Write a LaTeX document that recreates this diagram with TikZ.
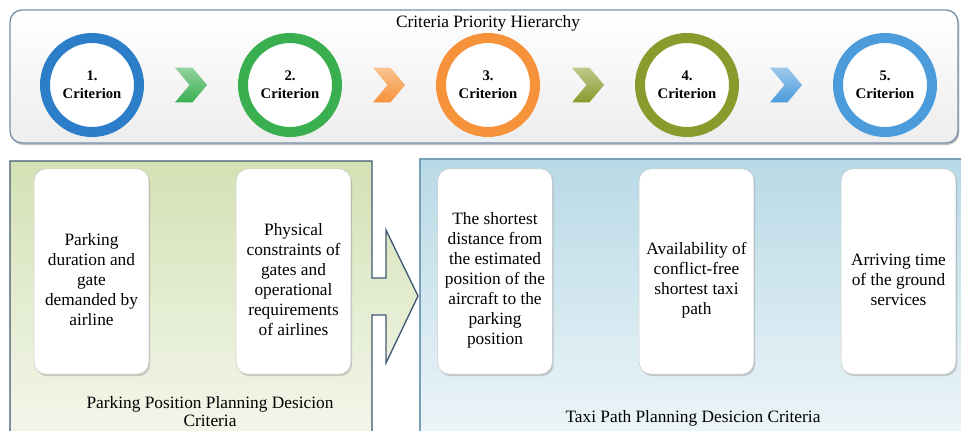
\documentclass[tikz,border=0pt]{standalone}
\usepackage{fontspec}
\setmainfont{Liberation Serif}
\usetikzlibrary{shapes.symbols,shadows}

\definecolor{bleu1}{RGB}{45,126,200}
\definecolor{vert}{RGB}{58,175,80}
\definecolor{orange}{RGB}{246,146,58}
\definecolor{olive}{RGB}{139,154,44}
\definecolor{bleu2}{RGB}{76,155,219}
\definecolor{bordhaut}{RGB}{120,145,170}
\definecolor{bordgauche}{RGB}{62,88,115}
\definecolor{borddroite}{RGB}{120,160,185}

\begin{document}
\begin{tikzpicture}
  [x=0.75pt, y=-0.75pt,
  haut/.style={
    draw=bordhaut,
    line width=1pt,
    top color=white,
    bottom color=black!7,
    rounded corners=9pt,
    drop shadow={shadow xshift=1pt, shadow yshift=-1.5pt, opacity=.5}}, gauche/.style={
    draw=bordgauche,
    line width=1pt,
    top color={rgb,255:red,212;green,225;blue,180},
    bottom color={rgb,255:red,244;green,247;blue,237}}, droite/.style={
    draw=borddroite,
    line width=.8pt,
    top color={rgb,255:red,184;green,217;blue,230},
    bottom color={rgb,255:red,238;green,246;blue,249}}, anneau/.style={
    circle,
    fill=white,
    line width=7.5pt,
    minimum size=70.5pt,
    align=center,
    font=\fontsize{11}{13.5}\selectfont\bfseries}, chevron/.style={
    signal,
    signal from=west,
    signal to=east,
    signal pointer angle=100,
    minimum width=24pt,
    minimum height=26pt,
    inner sep=0pt}, carte/.style={
    draw=black!20,
    fill=white,
    rectangle,
    rounded corners=9pt,
    minimum width=86pt,
    minimum height=154pt,
    drop shadow={shadow xshift=1pt, shadow yshift=-1.5pt, opacity=.35}}, texte/.style={
    align=center,
    font=\fontsize{13}{15}\selectfont}]

  \clip (0,0) rectangle (961,430);

  \draw [haut] (10,10) rectangle (958,143);
  \draw [droite] (420,159) rectangle (975,445);
  \draw [gauche] (10,161) -- (372,161) -- (372,278) -- (386,278) -- (386,230)
    -- (418,296) -- (386,363) -- (386,315) -- (372,315) -- (372,445)
    -- (10,445) -- cycle;

  \node [texte] at (488,23) (titre) {Criteria Priority Hierarchy};

  \node [anneau, draw=bleu1] at (92,85) (c1) {1.\\Criterion};
  \node [anneau, draw=vert] at (290,85) (c2) {2.\\Criterion};
  \node [anneau, draw=orange] at (488,85) (c3) {3.\\Criterion};
  \node [anneau, draw=olive] at (687,85) (c4) {4.\\Criterion};
  \node [anneau, draw=bleu2] at (885,85) (c5) {5.\\Criterion};

  \node [chevron, top color=vert!55!white, bottom color=vert] at (191,85) (f1) {};
  \node [chevron, top color=orange!55!white, bottom color=orange] at (389,85) (f2) {};
  \node [chevron, top color=olive!55!white, bottom color=olive] at (588,85) (f3) {};
  \node [chevron, top color=bleu2!55!white, bottom color=bleu2] at (786,85) (f4) {};

  \node [carte] at (91.5,271.5) (park) {};
  \node [carte] at (293.5,271.5) (phys) {};
  \node [carte] at (495,271.5) (court) {};
  \node [carte] at (696.5,271.5) (dispo) {};
  \node [carte] at (898.5,271.5) (arrivee) {};

  \node [texte] at (91.5,280) (parktxt) {Parking\\duration and\\gate\\demanded by\\airline};
  \node [texte] at (293.5,280) (phystxt) {Physical\\constraints of\\gates and\\operational\\requirements\\of airlines};
  \node [texte] at (495,280) (courttxt) {The shortest\\distance from\\the estimated\\position of the\\aircraft to the\\parking\\position};
  \node [texte] at (696.5,280) (dispotxt) {Availability of\\conflict-free\\shortest taxi\\path};
  \node [texte] at (898.5,280) (arriveetxt) {Arriving time\\of the ground\\services};

  \node [texte, font=\fontsize{13}{13.5}\selectfont] at (210,412) (parking) {Parking Position Planning Desicion\\Criteria};
  \node [texte] at (693,418) (taxi) {Taxi Path Planning Desicion Criteria};
\end{tikzpicture}
\end{document}
